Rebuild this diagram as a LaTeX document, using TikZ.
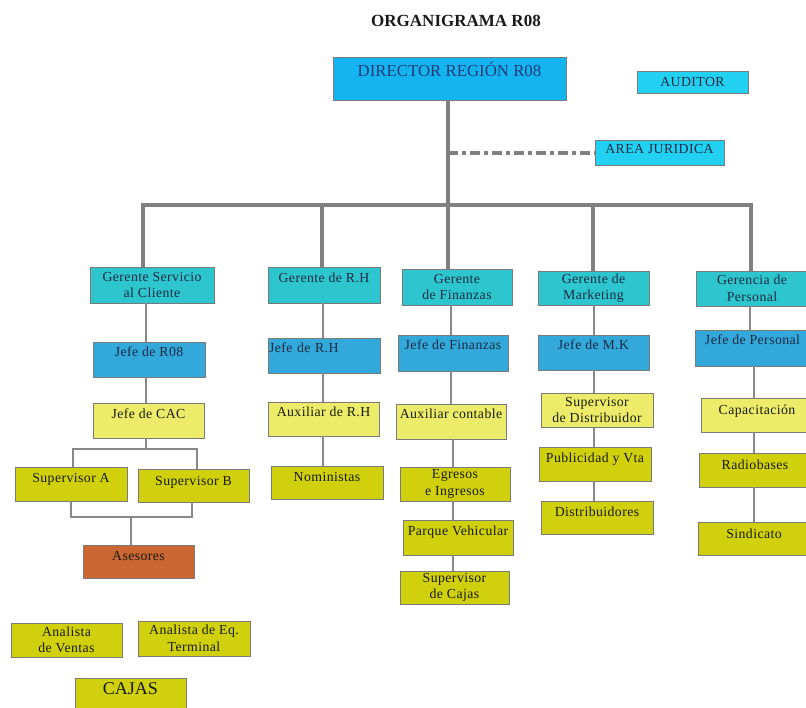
\documentclass[tikz,border=0pt]{standalone}
\usepackage{fontspec}
\setmainfont{Liberation Serif}
\usetikzlibrary{calc}
\definecolor{cDir}{HTML}{14B4F0}
\definecolor{cAud}{HTML}{22D0F2}
\definecolor{cLa}{HTML}{2EC6CE}
\definecolor{cLb}{HTML}{33A8DA}
\definecolor{cLc}{HTML}{ECEC6A}
\definecolor{cLd}{HTML}{D0D00C}
\definecolor{cAs}{HTML}{CC6633}
\definecolor{cBord}{HTML}{7A7A7A}
\definecolor{cLine}{HTML}{888888}
\definecolor{cThk}{HTML}{808080}
\definecolor{tNavy}{HTML}{1F3C78}
\definecolor{tDark}{HTML}{1A2A44}
\definecolor{tBlk}{HTML}{1A1A0A}
\tikzset{
  bx/.style={draw=cBord, line width=0.9pt, inner sep=0pt, align=center,
    font=\fontsize{13.8}{16.5}\selectfont\addfontfeature{LetterSpace=3}},
  tb/.style 2 args={text height=#1pt, text depth=#2pt, minimum height=0pt},
  thk/.style={draw=cThk, line width=4pt},
  thn/.style={draw=cLine, line width=1.3pt},
  blu/.style={bx, text=tDark},
  yel/.style={bx, text=tBlk},
}
\begin{document}
\begin{tikzpicture}[x=1pt,y=-1pt]
\useasboundingbox (0,0) rectangle (806,708);
\fill[white] (0,0) rectangle (806,708);

% title
\node[anchor=base, font=\fontsize{17}{19}\selectfont\bfseries, text=black!90] (title) at (456,27) {ORGANIGRAMA R08};

% top level
\node[bx, fill=cDir, text=tNavy, minimum width=233, tb={20}{23},
  font=\fontsize{16.8}{18}\selectfont] (dir) at (449.5,78.5) {DIRECTOR REGIÓN R08};
\node[blu, fill=cAud, minimum width=111, tb={16}{6}] (aud) at (692.5,82) {AUDITOR};
\node[blu, fill=cAud, minimum width=129, tb={14}{11}] (jur) at (659.5,152.5) {AREA JURIDICA};

% level 1
\node[blu, fill=cLa, minimum width=124, minimum height=36] (g1) at (152,285) {Gerente Servicio\\al Cliente};
\node[blu, fill=cLa, minimum width=112, tb={16}{20}] (g2) at (324,285) {Gerente de R.H};
\node[blu, fill=cLa, minimum width=110, minimum height=36] (g3) at (457,287) {Gerente\\de Finanzas};
\node[blu, fill=cLa, minimum width=111, minimum height=34] (g4) at (593.5,288) {Gerente de\\Marketing};
\node[blu, fill=cLa, minimum width=112, minimum height=35] (g5) at (752,288.5) {Gerencia de\\Personal};

% level 2
\node[blu, fill=cLb, minimum width=112, tb={15}{20}] (j1) at (149,359.5) {Jefe de R08};
\node[blu, fill=cLb, text width=110, inner xsep=1pt, align=left, tb={15}{20}] (j2) at (324,355.5) {Jefe de R.H};
\node[blu, fill=cLb, minimum width=110, tb={15}{21}] (j3) at (453,353) {Jefe de Finanzas};
\node[blu, fill=cLb, minimum width=111, tb={15}{20}] (j4) at (593.5,352.5) {Jefe de M.K};
\node[blu, fill=cLb, minimum width=115, tb={15}{21}] (j5) at (752.5,348) {Jefe de Personal};

% level 3
\node[yel, fill=cLc, minimum width=111, tb={15}{20}] (c1) at (148.5,420.5) {Jefe de CAC};
\node[yel, fill=cLc, minimum width=111, tb={15}{19}] (c2) at (323.5,419) {Auxiliar de R.H};
\node[yel, fill=cLc, minimum width=110, tb={15}{20}] (c3) at (451,421.5) {Auxiliar contable};
\node[yel, fill=cLc, minimum width=112, minimum height=34] (c4) at (597,410) {Supervisor\\de Distribuidor};
\node[yel, fill=cLc, minimum width=112, tb={16}{18}] (c5) at (757,415) {Capacitación};

% level 4
\node[yel, fill=cLd, minimum width=112, tb={15}{19}] (sa) at (71,484) {Supervisor A};
\node[yel, fill=cLd, minimum width=111, tb={16}{17}] (sb) at (193.5,485.5) {Supervisor B};
\node[yel, fill=cAs, minimum width=111, tb={15}{18}] (as) at (138.5,561.5) {Asesores};
\node[yel, fill=cLd, minimum width=112, tb={15}{18}] (n2) at (327,482.5) {Noministas};
\node[yel, fill=cLd, minimum width=110, minimum height=34] (e3) at (455,484) {Egresos\\e Ingresos};
\node[yel, fill=cLd, minimum width=110, tb={15}{20}] (p3) at (458,537.5) {Parque Vehicular};
\node[yel, fill=cLd, minimum width=109, minimum height=33] (s3) at (454.5,587.5) {Supervisor\\de Cajas};
\node[yel, fill=cLd, minimum width=112, tb={15}{19}] (pu4) at (595,464) {Publicidad y Vta};
\node[yel, fill=cLd, minimum width=112, tb={15}{18}] (d4) at (597,517.5) {Distribuidores};
\node[yel, fill=cLd, minimum width=112, tb={16}{18}] (r5) at (755,470) {Radiobases};
\node[yel, fill=cLd, minimum width=112, tb={16}{17}] (si5) at (754,538.5) {Sindicato};

% bottom
\node[yel, fill=cLd, minimum width=111, minimum height=34] (av) at (66.5,640) {Analista\\de Ventas};
\node[yel, fill=cLd, minimum width=112, minimum height=35] (at) at (194,638.5) {Analista de Eq.\\Terminal};
\node[yel, fill=cLd, minimum width=111, tb={16}{18}, font=\fontsize{18}{20}\selectfont] (cj) at (130.5,695) {CAJAS};

% thick connectors
\coordinate (b1) at (143,205);
\coordinate (b2) at (322,205);
\coordinate (b3) at (448,205);
\coordinate (b4) at (593,205);
\coordinate (b5) at (751,205);
\coordinate (dj) at (448,153);
\draw[thk] (dir.south -| b3) -- (b3);
\draw[thk, line join=miter] (g1.north -| b1) -- (b1) -- (b5) -- (g5.north -| b5);
\draw[thk] (b2) -- (g2.north -| b2);
\draw[thk] (b3) -- (g3.north -| b3);
\draw[thk] (b4) -- (g4.north -| b4);
\draw[thk, dash pattern=on 10pt off 4pt on 4pt off 4pt] (dj) -- (jur.west |- dj);

% column 1
\coordinate (k1) at (146,0);
\coordinate (xA) at (73,0);
\coordinate (xB) at (197,0);
\coordinate (xA2) at (71,0);
\coordinate (xB2) at (192,0);
\coordinate (busA) at (146,449);
\coordinate (busB) at (131,517);
\draw[thn] (g1.south -| k1) -- (j1.north -| k1);
\draw[thn] (j1.south -| k1) -- (c1.north -| k1);
\draw[thn] (c1.south -| k1) -- (busA);
\draw[thn] (sa.north -| xA) |- (busA) -| (sb.north -| xB);
\draw[thn] (sa.south -| xA2) |- (busB) -| (sb.south -| xB2);
\draw[thn] (busB) -- (as.north -| busB);

% column 2
\coordinate (k2) at (323,0);
\draw[thn] (g2.south -| k2) -- (j2.north -| k2);
\draw[thn] (j2.south -| k2) -- (c2.north -| k2);
\draw[thn] (c2.south -| k2) -- (n2.north -| k2);

% column 3
\coordinate (k3) at (451,0);
\coordinate (k3b) at (453,0);
\draw[thn] (g3.south -| k3) -- (j3.north -| k3);
\draw[thn] (j3.south -| k3) -- (c3.north -| k3);
\draw[thn] (c3.south -| k3b) -- (e3.north -| k3b);
\draw[thn] (e3.south -| k3b) -- (p3.north -| k3b);
\draw[thn] (p3.south -| k3b) -- (s3.north -| k3b);

% column 4
\coordinate (k4) at (594,0);
\draw[thn] (g4.south -| k4) -- (j4.north -| k4);
\draw[thn] (j4.south -| k4) -- (c4.north -| k4);
\draw[thn] (c4.south -| k4) -- (pu4.north -| k4);
\draw[thn] (pu4.south -| k4) -- (d4.north -| k4);

% column 5
\coordinate (k5) at (750,0);
\coordinate (k5b) at (754,0);
\draw[thn] (g5.south -| k5) -- (j5.north -| k5);
\draw[thn] (j5.south -| k5b) -- (c5.north -| k5b);
\draw[thn] (c5.south -| k5b) -- (r5.north -| k5b);
\draw[thn] (r5.south -| k5b) -- (si5.north -| k5b);
\end{tikzpicture}
\end{document}
